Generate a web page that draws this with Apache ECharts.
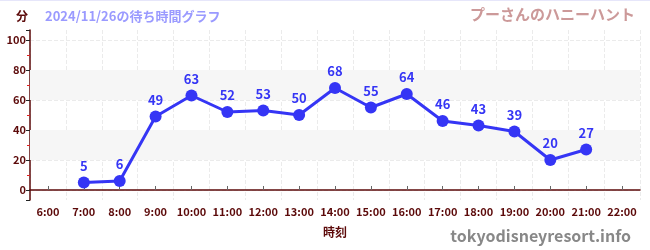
<!DOCTYPE html>
<html><head><meta charset="utf-8">
<script src="https://cdn.jsdelivr.net/npm/echarts@6/dist/echarts.min.js"></script>
<style>html,body{margin:0;padding:0;background:#fff}#c{width:650px;height:250px;border-top:1px solid #e6e6fa;box-sizing:border-box}</style>
</head><body><div id="c"></div>
<script>
var categories = ['6:00','7:00','8:00','9:00','10:00','11:00','12:00','13:00','14:00','15:00','16:00','17:00','18:00','19:00','20:00','21:00','22:00'];
var waitTimes = [null,5,6,49,63,52,53,50,68,55,64,46,43,39,20,27,null];
var bandRanges = [[20,40],[60,80]];
var titleText = '2024/11/26の待ち時間グラフ';
var attractionName = 'プーさんのハニーハント';
var siteName = 'tokyodisneyresort.info';

var maroon = '#5c0a0a';
var font = '"Noto Sans CJK JP", "Noto Sans", sans-serif';
var chart = echarts.init(document.getElementById('c'));
chart.setOption({
  animation: false,
  textStyle: {fontFamily: font},
  title: [
    {text: titleText, left: 40, top: 4, textStyle: {color: '#9a9aff', fontSize: 13, fontWeight: 'bold', fontFamily: font}},
    {text: attractionName, right: 10, top: 1, textStyle: {color: '#cc9999', fontSize: 15, fontWeight: 'bold', fontFamily: font}},
    {text: siteName, right: 14, top: 222, textStyle: {color: '#888888', fontSize: 16, fontWeight: 'bold', fontFamily: font}}
  ],
  grid: {left: 30, right: 10, top: 29, bottom: 50},
  xAxis: {
    type: 'category', data: categories, boundaryGap: true,
    name: '時刻', nameLocation: 'middle', nameGap: 26,
    nameTextStyle: {color: maroon, fontSize: 12, fontWeight: 'bold'},
    axisLine: {lineStyle: {color: maroon, width: 1.5}},
    axisTick: {show: true, alignWithLabel: true, inside: true, length: 4, lineStyle: {color: '#666666', width: 1}},
    minorTick: {show: false},
    axisLabel: {color: maroon, fontSize: 11, fontWeight: 'bold', margin: 6, interval: 0},
    splitLine: {show: true, lineStyle: {color: '#ebebeb', type: 'dashed'}}
  },
  yAxis: {
    type: 'value', min: -6.67, max: 106.67, splitNumber: 5,
    name: '分', nameLocation: 'end', nameGap: 8,
    nameTextStyle: {color: maroon, fontSize: 12, fontWeight: 'bold', align: 'right', padding: [0, 2, 0, 0]},
    axisLine: {show: true, lineStyle: {color: maroon, width: 1.5}},
    axisTick: {show: true, length: 4, lineStyle: {color: '#222'}},
    minorTick: {show: true, splitNumber: 2, length: 3, lineStyle: {color: '#e02020'}},
    axisLabel: {color: maroon, fontSize: 11, fontWeight: 'bold', margin: 4, showMinLabel: false, showMaxLabel: false,
      formatter: function (v) { return (Math.abs(v % 20) < 1e-6) ? String(v) : ''; }},
    splitLine: {show: true, showMinLine: false, showMaxLine: false, lineStyle: {color: '#ebebeb', type: 'dashed'}}
  },
  series: [{
    type: 'line', data: waitTimes, connectNulls: false,
    symbol: 'circle', symbolSize: 12,
    itemStyle: {color: '#3535f5'},
    lineStyle: {color: '#3535f5', width: 3},
    label: {show: true, position: 'top', distance: 4, color: '#3535f5', fontSize: 13, fontWeight: 'bold'},
    markArea: {
      silent: true,
      itemStyle: {color: '#f6f6f6'},
      data: bandRanges.map(function (r) { return [{yAxis: r[0]}, {yAxis: r[1]}]; })
    },
    z: 3
  }]
});
</script></body></html>
